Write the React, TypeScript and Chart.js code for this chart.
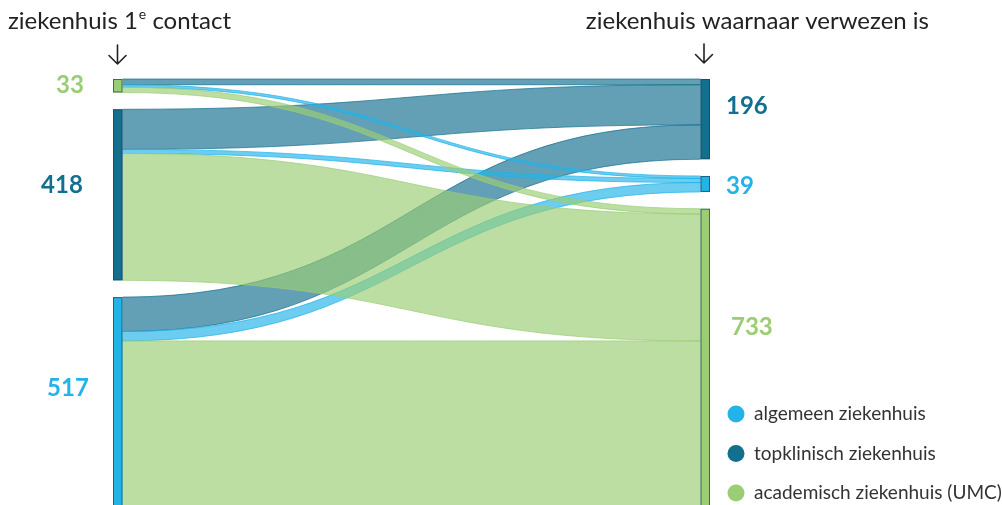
import React, { useEffect, useRef } from "react";
import { Chart, registerables } from "chart.js";

Chart.register(...registerables);

// ---- data ----
const categories = ["algemeen ziekenhuis", "topklinisch ziekenhuis", "academisch ziekenhuis (UMC)"];
const categoryColors = ["#22b3e8", "#136f8e", "#9acd74"];
const leftOrder = [2, 1, 0]; // top to bottom on the left (1e contact)
const rightOrder = [1, 0, 2]; // top to bottom on the right (verwezen naar)
const flowSource = [2, 2, 2, 1, 1, 1, 0, 0, 0];
const flowTarget = [1, 0, 2, 1, 0, 2, 1, 0, 2];
const flowValue = [14, 6, 13, 98, 10, 310, 84, 23, 410];
const leftTitle = "ziekenhuis 1";
const leftTitleSup = "e";
const leftTitleRest = " contact";
const rightTitle = "ziekenhuis waarnaar verwezen is";

// ---- layout / style ----
const NODE_GAP = 41;
const NODE_W = 9.5;
const FLOW_ALPHA = 0.66;
const leftLabelDx = [-43, -51, -45]; // label center relative to node left, by left position
const leftLabelDy = [0, -10, -15];
const rightLabelDx = [16, 16, 21];
const rightLabelDy = [-13, 2, -31];
const drawOrderByTarget = [1, 0, 2];

function hexToRgba(hex: string, a: number) {
  const n = parseInt(hex.slice(1), 16);
  return `rgba(${(n >> 16) & 255},${(n >> 8) & 255},${n & 255},${a})`;
}

function drawArrow(ctx: CanvasRenderingContext2D, x: number, yTop: number, yBot: number) {
  ctx.save();
  ctx.strokeStyle = "#222";
  ctx.lineWidth = 1.6;
  ctx.lineCap = "round";
  ctx.lineJoin = "round";
  ctx.beginPath();
  ctx.moveTo(x, yTop);
  ctx.lineTo(x, yBot);
  ctx.moveTo(x - 8.5, yBot - 8.5);
  ctx.lineTo(x, yBot);
  ctx.lineTo(x + 8.5, yBot - 8.5);
  ctx.stroke();
  ctx.restore();
}

const sankeyPlugin = {
  id: "sankeyDraw",
  afterDraw(chart: any) {
    const { ctx } = chart;
    const xs = chart.scales.x;
    const ys = chart.scales.y;
    const xL = xs.getPixelForValue(0);
    const xR = xs.getPixelForValue(1);

    const leftTotals = categories.map((_, c) =>
      flowValue.reduce((s, v, i) => (flowSource[i] === c ? s + v : s), 0)
    );
    const rightTotals = categories.map((_, c) =>
      flowValue.reduce((s, v, i) => (flowTarget[i] === c ? s + v : s), 0)
    );
    const leftStart: number[] = [];
    let acc = 0;
    leftOrder.forEach((c) => {
      leftStart[c] = acc;
      acc += leftTotals[c] + NODE_GAP;
    });
    const rightStart: number[] = [];
    acc = 0;
    rightOrder.forEach((c) => {
      rightStart[c] = acc;
      acc += rightTotals[c] + NODE_GAP;
    });

    const srcOff: number[] = [];
    const tgtOff: number[] = [];
    categories.forEach((_, c) => {
      let o = leftStart[c];
      rightOrder.forEach((t) => {
        flowValue.forEach((v, i) => {
          if (flowSource[i] === c && flowTarget[i] === t) {
            srcOff[i] = o;
            o += v;
          }
        });
      });
      let o2 = rightStart[c];
      leftOrder.forEach((s) => {
        flowValue.forEach((v, i) => {
          if (flowTarget[i] === c && flowSource[i] === s) {
            tgtOff[i] = o2;
            o2 += v;
          }
        });
      });
    });

    ctx.save();
    const x0 = xL + NODE_W;
    const x1 = xR - NODE_W;
    const xm = (x0 + x1) / 2;
    drawOrderByTarget.forEach((t) => {
      flowValue.forEach((v, i) => {
        if (flowTarget[i] !== t) return;
        const y0t = ys.getPixelForValue(srcOff[i]);
        const y0b = ys.getPixelForValue(srcOff[i] + v);
        const y1t = ys.getPixelForValue(tgtOff[i]);
        const y1b = ys.getPixelForValue(tgtOff[i] + v);
        const col = categoryColors[flowTarget[i]];
        ctx.beginPath();
        ctx.moveTo(x0, y0t);
        ctx.bezierCurveTo(xm, y0t, xm, y1t, x1, y1t);
        ctx.lineTo(x1, y1b);
        ctx.bezierCurveTo(xm, y1b, xm, y0b, x0, y0b);
        ctx.closePath();
        ctx.fillStyle = hexToRgba(col, FLOW_ALPHA);
        ctx.fill();
        ctx.lineWidth = 0.8;
        ctx.strokeStyle = hexToRgba(col, 0.9);
        ctx.beginPath();
        ctx.moveTo(x0, y0t);
        ctx.bezierCurveTo(xm, y0t, xm, y1t, x1, y1t);
        ctx.moveTo(x1, y1b);
        ctx.bezierCurveTo(xm, y1b, xm, y0b, x0, y0b);
        ctx.stroke();
      });
    });

    // nodes
    ctx.lineWidth = 1;
    const drawNode = (x: number, c: number, start: number, total: number) => {
      const yt = ys.getPixelForValue(start);
      const yb = ys.getPixelForValue(start + total);
      ctx.fillStyle = categoryColors[c];
      ctx.fillRect(x, yt, NODE_W, yb - yt);
      ctx.strokeStyle = "rgba(30,70,90,0.75)";
      ctx.strokeRect(x + 0.5, yt + 0.5, NODE_W - 1, yb - yt - 1);
    };
    leftOrder.forEach((c) => drawNode(xL, c, leftStart[c], leftTotals[c]));
    rightOrder.forEach((c) => drawNode(xR - NODE_W, c, rightStart[c], rightTotals[c]));

    // value labels
    ctx.font = "bold 24px Lato";
    ctx.textBaseline = "middle";
    leftOrder.forEach((c, k) => {
      const yc = ys.getPixelForValue(leftStart[c] + leftTotals[c] / 2);
      ctx.fillStyle = categoryColors[c];
      ctx.textAlign = "center";
      ctx.fillText(String(leftTotals[c]), xL + leftLabelDx[k], yc + leftLabelDy[k]);
    });
    rightOrder.forEach((c, k) => {
      const yc = ys.getPixelForValue(rightStart[c] + rightTotals[c] / 2);
      ctx.fillStyle = categoryColors[c];
      ctx.textAlign = "left";
      ctx.fillText(String(rightTotals[c]), xR + rightLabelDx[k], yc + rightLabelDy[k]);
    });

    // titles + arrows
    ctx.fillStyle = "#222";
    ctx.textBaseline = "alphabetic";
    ctx.textAlign = "left";
    const titleFont = "400 24px Lato";
    ctx.font = titleFont;
    let tx = 8;
    ctx.fillText(leftTitle, tx, 29);
    tx += ctx.measureText(leftTitle).width + 1;
    ctx.font = "400 14px Lato";
    ctx.fillText(leftTitleSup, tx, 19);
    tx += ctx.measureText(leftTitleSup).width;
    ctx.font = titleFont;
    ctx.fillText(leftTitleRest, tx, 29);
    ctx.textAlign = "right";
    ctx.fillText(rightTitle, 929, 29);

    drawArrow(ctx, xL + 4.5, 45, 64);
    drawArrow(ctx, xR - 6, 44, 63);

    // legend
    const legendOrder = [0, 1, 2];
    ctx.font = "19px Lato";
    ctx.textAlign = "left";
    ctx.textBaseline = "middle";
    legendOrder.forEach((c, k) => {
      const y = 414 + k * 39.5;
      ctx.beginPath();
      ctx.arc(736, y, 8.5, 0, Math.PI * 2);
      ctx.fillStyle = categoryColors[c];
      ctx.fill();
      ctx.fillStyle = "#333";
      ctx.fillText(categories[c], 754, y);
    });
    ctx.restore();
  },
};

export default function App() {
  const ref = useRef<HTMLCanvasElement | null>(null);
  useEffect(() => {
    if (!ref.current) return;
    const chart = new Chart(ref.current, {
      type: "scatter",
      data: { datasets: [{ data: [] }] },
      options: {
        animation: false,
        responsive: true,
        maintainAspectRatio: false,
        layout: { padding: { top: 79, bottom: 0, left: 113, right: 292 } },
        plugins: { legend: { display: false }, tooltip: { enabled: false } },
        scales: {
          x: { type: "linear", min: 0, max: 1, display: false },
          y: { type: "linear", min: 0, max: 1041, reverse: true, display: false },
        },
      },
      plugins: [sankeyPlugin],
    });
    return () => chart.destroy();
  }, []);
  return (
    <div style={{ position: "absolute", left: 0, top: 0, width: 1002, height: 505, background: "#fff" }}>
      <canvas ref={ref} />
    </div>
  );
}
